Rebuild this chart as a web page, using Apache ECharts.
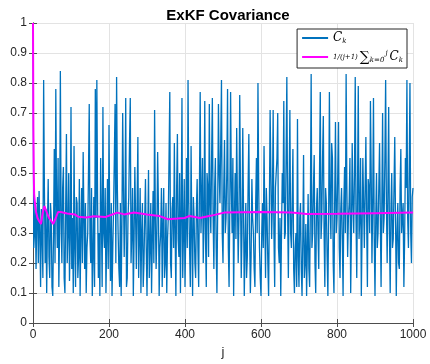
<!DOCTYPE html>
<html>
<head>
    <meta charset="UTF-8">
    <title>ExKF Covariance</title>
</head>
<body style="margin:0">
    <div id="main" style="width: 430px;height:364px;"></div>
    <script src="https://cdn.jsdelivr.net/npm/echarts@6/dist/echarts.min.js"></script>
    <script type="text/javascript">
        // C_k, one value every 2 steps of j (j = 0, 2, ..., 1000)
        const stepJ = 2;
        const cVals = [
            1.0, 0.25, 0.30, 0.40, 0.18, 0.35, 0.42, 0.20, 0.44, 0.30,
            0.12, 0.38, 0.30, 0.15, 0.81, 0.45, 0.20, 0.38, 0.10, 0.32,
            0.48, 0.22, 0.15, 0.40, 0.35, 0.12, 0.09, 0.30, 0.58, 0.20,
            0.78, 0.40, 0.25, 0.55, 0.12, 0.30, 0.84, 0.35, 0.20, 0.45,
            0.52, 0.15, 0.10, 0.38, 0.63, 0.20, 0.30, 0.50, 0.14, 0.28,
            0.72, 0.18, 0.35, 0.10, 0.59, 0.25, 0.12, 0.42, 0.40, 0.15,
            0.22, 0.48, 0.09, 0.30, 0.45, 0.20, 0.57, 0.35, 0.18, 0.40,
            0.10, 0.25, 0.30, 0.50, 0.73, 0.28, 0.20, 0.45, 0.09, 0.22,
            0.42, 0.12, 0.78, 0.35, 0.81, 0.40, 0.15, 0.30, 0.09, 0.55,
            0.35, 0.12, 0.72, 0.30, 0.25, 0.45, 0.10, 0.28, 0.48, 0.18,
            0.66, 0.30, 0.14, 0.40, 0.09, 0.25, 0.38, 0.55, 0.73, 0.20,
            0.82, 0.45, 0.30, 0.18, 0.12, 0.40, 0.09, 0.33, 0.70, 0.45,
            0.22, 0.38, 0.75, 0.12, 0.15, 0.35, 0.42, 0.60, 0.75, 0.20,
            0.30, 0.45, 0.09, 0.28, 0.52, 0.35, 0.18, 0.40, 0.62, 0.15,
            0.28, 0.45, 0.10, 0.30, 0.40, 0.12, 0.20, 0.35, 0.48, 0.25,
            0.09, 0.30, 0.51, 0.15, 0.25, 0.40, 0.10, 0.28, 0.44, 0.20,
            0.71, 0.35, 0.18, 0.30, 0.57, 0.40, 0.09, 0.25, 0.30, 0.45,
            0.12, 0.32, 0.45, 0.15, 0.20, 0.40, 0.10, 0.28, 0.35, 0.55,
            0.77, 0.20, 0.15, 0.38, 0.42, 0.25, 0.60, 0.30, 0.09, 0.45,
            0.63, 0.28, 0.22, 0.50, 0.10, 0.35, 0.75, 0.15, 0.30, 0.48,
            0.12, 0.30, 0.55, 0.25, 0.81, 0.40, 0.25, 0.12, 0.59, 0.30,
            0.09, 0.42, 0.35, 0.20, 0.15, 0.38, 0.48, 0.25, 0.12, 0.45,
            0.77, 0.30, 0.40, 0.55, 0.20, 0.35, 0.74, 0.28, 0.12, 0.50,
            0.45, 0.22, 0.73, 0.40, 0.30, 0.55, 0.75, 0.35, 0.18, 0.45,
            0.55, 0.25, 0.10, 0.38, 0.73, 0.50, 0.40, 0.60, 0.81, 0.30,
            0.20, 0.45, 0.61, 0.30, 0.35, 0.50, 0.78, 0.25, 0.12, 0.40,
            0.77, 0.45, 0.30, 0.55, 0.09, 0.35, 0.50, 0.28, 0.65, 0.40,
            0.20, 0.35, 0.76, 0.45, 0.15, 0.30, 0.65, 0.38, 0.09, 0.25,
            0.40, 0.15, 0.22, 0.45, 0.63, 0.30, 0.10, 0.22, 0.48, 0.35,
            0.30, 0.18, 0.12, 0.40, 0.55, 0.30, 0.80, 0.45, 0.25, 0.15,
            0.09, 0.30, 0.40, 0.25, 0.59, 0.35, 0.15, 0.45, 0.35, 0.20,
            0.09, 0.38, 0.71, 0.50, 0.28, 0.40, 0.71, 0.30, 0.12, 0.45,
            0.45, 0.55, 0.70, 0.25, 0.20, 0.35, 0.09, 0.30, 0.50, 0.40,
            0.74, 0.28, 0.30, 0.55, 0.82, 0.38, 0.15, 0.45, 0.71, 0.30,
            0.25, 0.40, 0.58, 0.18, 0.10, 0.25, 0.30, 0.12, 0.68, 0.22,
            0.12, 0.35, 0.40, 0.18, 0.09, 0.28, 0.56, 0.15, 0.20, 0.33,
            0.09, 0.25, 0.43, 0.18, 0.12, 0.40, 0.83, 0.25, 0.30, 0.45,
            0.56, 0.20, 0.10, 0.38, 0.45, 0.30, 0.18, 0.50, 0.77, 0.28,
            0.35, 0.55, 0.69, 0.30, 0.12, 0.45, 0.40, 0.22, 0.09, 0.35,
            0.77, 0.40, 0.28, 0.60, 0.55, 0.20, 0.10, 0.42, 0.67, 0.30,
            0.35, 0.50, 0.67, 0.25, 0.15, 0.38, 0.45, 0.28, 0.09, 0.40,
            0.52, 0.30, 0.83, 0.45, 0.22, 0.35, 0.40, 0.55, 0.10, 0.30,
            0.60, 0.40, 0.30, 0.50, 0.82, 0.35, 0.15, 0.45, 0.79, 0.28,
            0.35, 0.55, 0.09, 0.30, 0.55, 0.40, 0.25, 0.45, 0.62, 0.35,
            0.12, 0.48, 0.45, 0.30, 0.74, 0.50, 0.20, 0.40, 0.75, 0.28,
            0.09, 0.35, 0.50, 0.25, 0.30, 0.45, 0.60, 0.35, 0.12, 0.40,
            0.70, 0.30, 0.35, 0.55, 0.81, 0.40, 0.20, 0.45, 0.72, 0.30,
            0.10, 0.38, 0.50, 0.25, 0.28, 0.45, 0.62, 0.35, 0.09, 0.30,
            0.40, 0.20, 0.18, 0.45, 0.58, 0.30, 0.30, 0.40, 0.12, 0.28,
            0.55, 0.45, 0.81, 0.35, 0.25, 0.50, 0.80, 0.30, 0.20, 0.42,
            0.45
        ];

        // running mean
        const meanJ = [0, 1, 2, 3, 5, 8, 12, 16, 21, 26, 30, 36, 42, 48, 53, 60, 66, 73, 90, 110,
            119, 140, 160, 190, 205, 222, 240, 266, 300, 332, 355, 380, 399, 412, 439, 470, 503, 600,
            681, 720, 800, 900, 1000];
        const meanVals = [1.0, 0.65, 0.50, 0.43, 0.40, 0.37, 0.35, 0.34, 0.33, 0.37, 0.39, 0.37, 0.35,
            0.34, 0.33, 0.35, 0.37, 0.37, 0.365, 0.362, 0.354, 0.352, 0.356, 0.353, 0.36, 0.368, 0.362,
            0.368, 0.362, 0.357, 0.346, 0.348, 0.35, 0.357, 0.35, 0.358, 0.368, 0.37, 0.368, 0.363,
            0.364, 0.366, 0.368];

        const yTicks = [0, 0.1, 0.2, 0.3, 0.4, 0.5, 0.6, 0.7, 0.8, 0.9, 1];
        const xTicks = [0, 200, 400, 600, 800, 1000];

        const cData = cVals.map(function (v, i) { return [i * stepJ, v]; });
        const meanData = meanVals.map(function (v, i) { return [meanJ[i], v]; });

        var myChart = echarts.init(document.getElementById('main'));

        const axisCol = '#4d4d4d';
        const txtCol = '#262626';
        const font = 'Liberation Sans, Arial, sans-serif';

        let option = {
            animation: false,
            backgroundColor: '#fff',
            title: {
                text: 'ExKF Covariance',
                left: 223,
                top: 3,
                textAlign: 'center',
                textStyle: { fontFamily: font, fontSize: 15, fontWeight: 'bold', color: '#000' }
            },
            grid: { left: 33, right: 17, top: 23, bottom: 41 },
            legend: {
                orient: 'vertical',
                right: 23,
                top: 29,
                align: 'left',
                backgroundColor: '#fff',
                borderColor: '#262626',
                borderWidth: 1,
                borderRadius: 0,
                padding: [3, 4, 4, 5],
                itemGap: 5,
                itemWidth: 26,
                itemHeight: 2,
                icon: 'rect',
                formatter: function (name) {
                    if (name === 'C') return '{i|C}{s|k}';
                    return '{f|1/(j+1)}{sg|\u2211}{s|k=0}{sp|j}{i|C}{s|k}';
                },
                textStyle: {
                    rich: {
                        i: { fontFamily: 'DejaVu Serif, serif', fontStyle: 'italic', fontSize: 12, color: '#000' },
                        s: { fontFamily: 'DejaVu Serif, serif', fontStyle: 'italic', fontSize: 7, color: '#000', padding: [6, 1, 0, 0] },
                        sp: { fontFamily: 'DejaVu Serif, serif', fontStyle: 'italic', fontSize: 7, color: '#000', padding: [0, 2, 8, 0] },
                        f: { fontFamily: 'DejaVu Serif, serif', fontStyle: 'italic', fontSize: 7, color: '#000', padding: [0, 2, 0, 0] },
                        sg: { fontFamily: 'DejaVu Serif, serif', fontSize: 14, color: '#000' }
                    }
                },
                data: ['C', 'mean']
            },
            xAxis: [{
                type: 'value',
                min: 0,
                max: 1000,
                interval: 200,
                name: 'j',
                nameLocation: 'middle',
                nameGap: 22,
                nameTextStyle: { fontFamily: font, fontSize: 13, color: txtCol },
                axisLine: { lineStyle: { color: axisCol } },
                axisTick: { inside: true, length: 4, lineStyle: { color: axisCol } },
                axisLabel: {
                    fontFamily: font, fontSize: 12, color: txtCol, margin: 6,
                    formatter: function (v) {
                        const t = xTicks.find(function (x) { return Math.abs(x - v) < 1e-6; });
                        return t === undefined ? '' : String(t);
                    }
                },
                splitLine: { lineStyle: { color: '#e3e3e3' } }
            }, {
                type: 'value',
                position: 'top',
                min: 0,
                max: 1000,
                interval: 200,
                axisLine: { show: true, lineStyle: { color: axisCol } },
                axisTick: { inside: true, length: 4, lineStyle: { color: axisCol } },
                axisLabel: { show: false },
                splitLine: { show: false }
            }],
            yAxis: [{
                type: 'value',
                min: 0,
                max: 1,
                interval: 0.1,
                axisLine: { show: true, lineStyle: { color: axisCol } },
                axisTick: { show: true, inside: true, length: 4, lineStyle: { color: axisCol } },
                axisLabel: {
                    fontFamily: font, fontSize: 12, color: txtCol, margin: 6,
                    formatter: function (v) {
                        const t = yTicks.find(function (y) { return Math.abs(y - v) < 1e-6; });
                        return t === undefined ? '' : String(t);
                    }
                },
                splitLine: { lineStyle: { color: '#e3e3e3' } }
            }, {
                type: 'value',
                position: 'right',
                min: 0,
                max: 1,
                interval: 0.1,
                axisLine: { show: true, lineStyle: { color: axisCol } },
                axisTick: { show: true, inside: true, length: 4, lineStyle: { color: axisCol } },
                axisLabel: { show: false },
                splitLine: { show: false }
            }],
            series: [{
                name: 'C',
                type: 'line',
                symbol: 'none',
                data: cData,
                lineStyle: { color: '#0072BD', width: 1.3 },
                itemStyle: { color: '#0072BD' }
            }, {
                name: 'mean',
                type: 'line',
                symbol: 'none',
                data: meanData,
                lineStyle: { color: '#FF00FF', width: 2 },
                itemStyle: { color: '#FF00FF' }
            }]
        };

        myChart.setOption(option);
    </script>
</body>
</html>
